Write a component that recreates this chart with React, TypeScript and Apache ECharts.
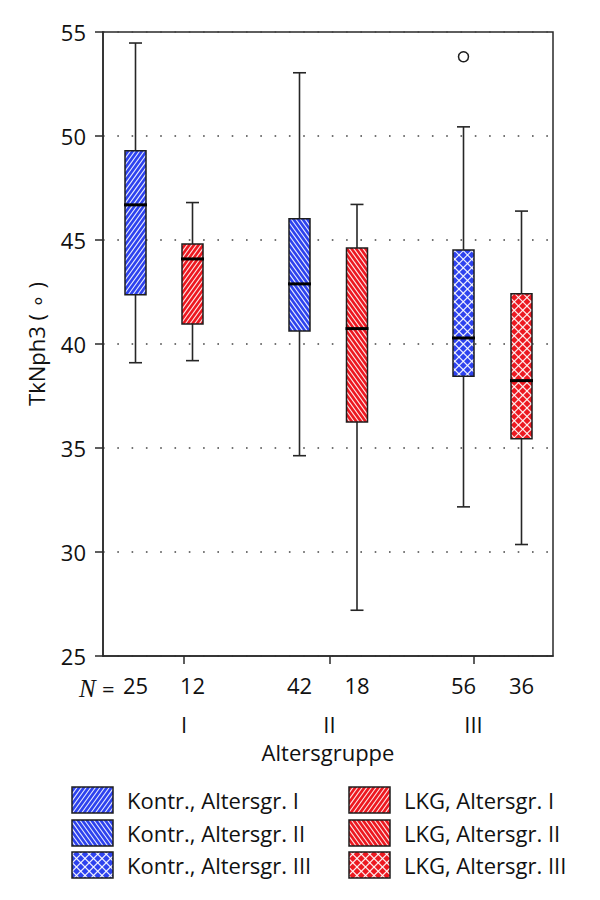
import React, { useEffect, useRef } from "react";
import * as echarts from "echarts";

// ---- data ----
const groupLabels = ["I", "II", "III"];
const groupTickX = [1.62, 4.53, 7.41];
const kontrX = [0.65, 3.93, 7.21];
const lkgX = [1.79, 5.08, 8.37];
const kontrN = [25, 42, 56];
const lkgN = [12, 18, 36];
// [low, q1, median, q3, high]
const kontrBoxes = [
  [39.1, 42.37, 46.69, 49.29, 54.47],
  [34.63, 40.63, 42.89, 46.02, 53.04],
  [32.17, 38.45, 40.29, 44.52, 50.44],
];
const lkgBoxes = [
  [39.2, 40.96, 44.09, 44.81, 46.8],
  [27.2, 36.25, 40.74, 44.62, 46.71],
  [30.36, 35.45, 38.24, 42.41, 46.39],
];
const kontrOutliers = [[7.21, 53.81]];
const legendLabels = [
  "Kontr., Altersgr. I",
  "Kontr., Altersgr. II",
  "Kontr., Altersgr. III",
  "LKG, Altersgr. I",
  "LKG, Altersgr. II",
  "LKG, Altersgr. III",
];

const BLUE = "#2d42ee";
const RED = "#ec1820";
const FONT = "Open Sans";
const FS = 22;

type Seg = [number, number, number, number];
function hatch(x0: number, y0: number, w: number, h: number, s: number, spacing: number): Seg[] {
  const x1 = x0 + w, y1 = y0 + h;
  const cs = [x0 + s * y0, x1 + s * y0, x0 + s * y1, x1 + s * y1];
  const cmin = Math.min(...cs), cmax = Math.max(...cs);
  const segs: Seg[] = [];
  for (let c = Math.ceil(cmin / spacing) * spacing; c <= cmax; c += spacing) {
    const ya = (c - x0) / s, yb = (c - x1) / s;
    const lo = Math.max(y0, Math.min(ya, yb));
    const hi = Math.min(y1, Math.max(ya, yb));
    if (hi - lo > 0.3) segs.push([c - s * lo, lo, c - s * hi, hi]);
  }
  return segs;
}
function patternSegs(kind: number, x: number, y: number, w: number, h: number): Seg[] {
  if (kind === 0) return hatch(x, y, w, h, 0.72, 4.6);
  if (kind === 1) return hatch(x, y, w, h, -0.72, 4.6);
  return [...hatch(x, y, w, h, 1, 8.5), ...hatch(x, y, w, h, -1, 8.5)];
}

function makeRender(color: string) {
  return (params: any, api: any) => {
    const i = params.dataIndex;
    const xv = api.value(0);
    const pLow = api.coord([xv, api.value(1)]);
    const pQ1 = api.coord([xv, api.value(2)]);
    const pMed = api.coord([xv, api.value(3)]);
    const pQ3 = api.coord([xv, api.value(4)]);
    const pHigh = api.coord([xv, api.value(5)]);
    const cx = pLow[0];
    const bw = 21;
    const cap = 13;
    const stroke = "#262626";
    const bx = cx - bw / 2;
    const by = pQ3[1];
    const bh = pQ1[1] - pQ3[1];
    const children: any[] = [
      { type: "line", shape: { x1: cx, y1: pLow[1], x2: cx, y2: pQ1[1] }, style: { stroke, lineWidth: 1.6 } },
      { type: "line", shape: { x1: cx, y1: pQ3[1], x2: cx, y2: pHigh[1] }, style: { stroke, lineWidth: 1.6 } },
      { type: "line", shape: { x1: cx - cap / 2, y1: pLow[1], x2: cx + cap / 2, y2: pLow[1] }, style: { stroke, lineWidth: 1.6 } },
      { type: "line", shape: { x1: cx - cap / 2, y1: pHigh[1], x2: cx + cap / 2, y2: pHigh[1] }, style: { stroke, lineWidth: 1.6 } },
      { type: "rect", shape: { x: bx, y: by, width: bw, height: bh }, style: { fill: color } },
    ];
    patternSegs(i, bx, by, bw, bh).forEach((s) => {
      children.push({ type: "line", shape: { x1: s[0], y1: s[1], x2: s[2], y2: s[3] }, style: { stroke: "rgba(255,255,255,0.9)", lineWidth: 1.1 } });
    });
    children.push({ type: "rect", shape: { x: bx, y: by, width: bw, height: bh }, style: { fill: "none", stroke: "#1e1e1e", lineWidth: 1.5 } });
    children.push({ type: "line", shape: { x1: bx - 1, y1: pMed[1], x2: bx + bw + 1, y2: pMed[1] }, style: { stroke: "#000", lineWidth: 3 } });
    return { type: "group", children };
  };
}

function legendGraphics(): any[] {
  const els: any[] = [];
  const rowsY = [800, 833, 865];
  const colX = [72, 349];
  legendLabels.forEach((label, k) => {
    const col = k < 3 ? 0 : 1;
    const row = k % 3;
    const color = col === 0 ? BLUE : RED;
    const x = colX[col], y = rowsY[row] - 13, w = 41, h = 26;
    els.push({ type: "rect", shape: { x, y, width: w, height: h }, style: { fill: color } });
    patternSegs(row, x, y, w, h).forEach((s) => {
      els.push({ type: "line", shape: { x1: s[0], y1: s[1], x2: s[2], y2: s[3] }, style: { stroke: "rgba(255,255,255,0.9)", lineWidth: 1.1 } });
    });
    els.push({ type: "rect", shape: { x, y, width: w, height: h }, style: { fill: "none", stroke: "#1e1e1e", lineWidth: 1.5 } });
    els.push({
      type: "text",
      x: x + w + 14,
      y: rowsY[row],
      style: { text: label, fontFamily: FONT, fontSize: FS, fill: "#111", verticalAlign: "middle", align: "left" },
    });
  });
  els.push({
    type: "text",
    x: 79,
    y: 688,
    style: { text: "N", fontFamily: "Liberation Serif", fontStyle: "italic", fontSize: FS + 3, fill: "#111", verticalAlign: "middle", align: "left" },
  });
  els.push({
    type: "text",
    x: 102,
    y: 688,
    style: { text: "=", fontFamily: FONT, fontSize: FS, fill: "#111", verticalAlign: "middle", align: "left" },
  });
  return els;
}

export default function App() {
  const ref = useRef<HTMLDivElement>(null);
  useEffect(() => {
    document.body.style.margin = "0";
    if (!ref.current) return;
    const chart = echarts.init(ref.current, undefined, { renderer: "svg" });
    const boxPos = [...kontrX, ...lkgX];
    const boxN = [...kontrN, ...lkgN];
    chart.setOption({
      animation: false,
      backgroundColor: "#fff",
      grid: { left: 103, right: 47, top: 32, bottom: 244, show: true, borderColor: "#2a2a2a", borderWidth: 1.5, backgroundColor: "transparent" },
      xAxis: [
        {
          type: "value",
          min: 0,
          max: 9,
          position: "bottom",
          axisLine: { show: true, lineStyle: { color: "#2a2a2a", width: 1.5 } },
          axisTick: { show: true, customValues: groupTickX, length: 8, lineStyle: { color: "#2a2a2a", width: 1.5 } },
          axisLabel: {
            customValues: groupTickX,
            formatter: (v: number) => groupLabels[groupTickX.findIndex((t) => Math.abs(t - v) < 1e-6)] ?? "",
            margin: 57,
            fontFamily: FONT,
            fontSize: FS,
            color: "#111",
          },
          splitLine: { show: false },
          name: "Altersgruppe",
          nameLocation: "middle",
          nameGap: 85,
          nameTextStyle: { fontFamily: FONT, fontSize: FS, color: "#111" },
        },
        {
          type: "value",
          min: 0,
          max: 9,
          position: "bottom",
          axisLine: { show: false },
          axisTick: { show: false },
          splitLine: { show: false },
          axisLabel: {
            customValues: boxPos,
            formatter: (v: number) => {
              const k = boxPos.findIndex((t) => Math.abs(t - v) < 1e-6);
              return k >= 0 ? String(boxN[k]) : "";
            },
            margin: 18,
            fontFamily: FONT,
            fontSize: FS,
            color: "#111",
          },
        },
      ],
      yAxis: {
        type: "value",
        min: 25,
        max: 55,
        interval: 5,
        axisLine: { show: true, lineStyle: { color: "#2a2a2a", width: 1.5 } },
        axisTick: { show: true, length: 8, lineStyle: { color: "#2a2a2a", width: 1.5 } },
        axisLabel: { fontFamily: FONT, fontSize: FS, color: "#111", margin: 17 },
        splitLine: { show: true, lineStyle: { color: "#444", width: 1.6, type: [1.6, 12.7] } },
        name: "TkNph3 ( \u2218 )",
        nameLocation: "middle",
        nameGap: 56,
        nameTextStyle: { fontFamily: FONT, fontSize: FS, color: "#111" },
      },
      graphic: legendGraphics(),
      series: [
        {
          type: "custom",
          name: "Kontr.",
          xAxisIndex: 0,
          renderItem: makeRender(BLUE),
          encode: { x: 0, y: [1, 2, 3, 4, 5] },
          data: kontrBoxes.map((b, i) => [kontrX[i], ...b]),
          z: 3,
        },
        {
          type: "custom",
          name: "LKG",
          xAxisIndex: 0,
          renderItem: makeRender(RED),
          encode: { x: 0, y: [1, 2, 3, 4, 5] },
          data: lkgBoxes.map((b, i) => [lkgX[i], ...b]),
          z: 3,
        },
        {
          type: "scatter",
          xAxisIndex: 0,
          data: kontrOutliers,
          symbol: "circle",
          symbolSize: 10,
          itemStyle: { color: "#fff", borderColor: "#1e1e1e", borderWidth: 1.5, opacity: 1 },
          z: 4,
        },
      ],
    });
    return () => chart.dispose();
  }, []);
  return <div ref={ref} style={{ width: 600, height: 900 }} />;
}
